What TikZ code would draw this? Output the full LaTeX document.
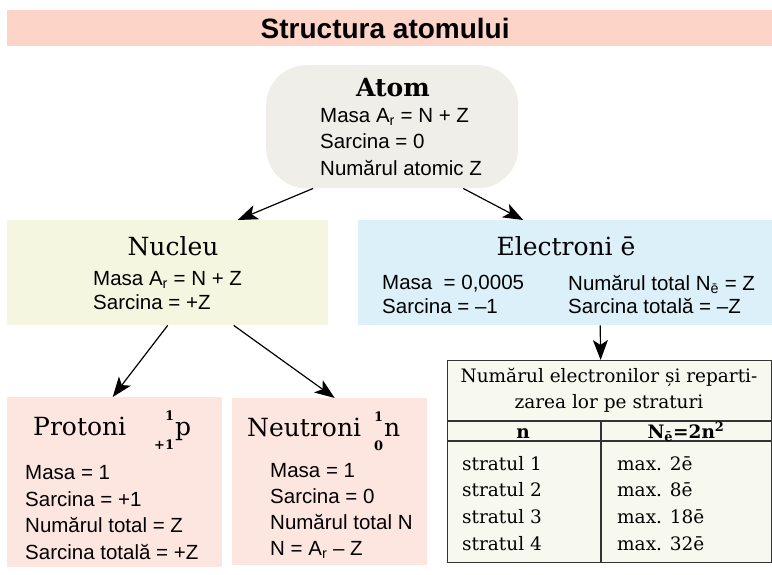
\documentclass[tikz,border=0pt]{standalone}
\usepackage{fontspec}
\newfontfamily\hv{Liberation Sans}
\newfontfamily\dvs{DejaVu Serif}
\usetikzlibrary{arrows.meta,positioning}
\definecolor{bandpink}{HTML}{FDD5C8}
\definecolor{atomgrey}{HTML}{EFEEE8}
\definecolor{nucyellow}{HTML}{F5F6E0}
\definecolor{elblue}{HTML}{DCF0FA}
\definecolor{partpink}{HTML}{FDE6E0}
\definecolor{tabcream}{HTML}{F8F9EE}
\definecolor{tabline}{HTML}{333333}
\newcommand{\nuclid}[3]{{\fontsize{13}{13}\selectfont\bfseries\begin{tabular}{@{}r@{}}#1\\[16pt]#2\end{tabular}}\hspace{1pt}#3}

\begin{document}
\begin{tikzpicture}[x=1pt,y=-1pt,
    box/.style={anchor=north west, inner sep=0pt, fill=#1},
    ttl/.style={inner sep=0pt, anchor=base, font=\dvs\fontsize{25}{30}\selectfont},
    txt/.style={inner sep=0pt, anchor=north west, align=left, font=\hv\fontsize{20.5}{#1}\selectfont},
    tabtxt/.style={inner sep=0pt, anchor=base west, font=\dvs\fontsize{18.5}{26}\selectfont},
    arr/.style={-{Stealth[length=20pt,width=15pt,inset=5pt]}, line width=1.2pt}]
    \useasboundingbox (0,0) rectangle (772,575);

    \node[box=bandpink, minimum width=765pt, minimum height=36pt,
      font=\hv\bfseries\fontsize{28}{30}\selectfont] (band) at (7,10) {Structura atomului\hspace*{9pt}};

    % boxes
    \node[box=atomgrey, minimum width=252pt, minimum height=123pt, rounded corners=40pt] (atom) at (266,65) {};
    \node[box=nucyellow, minimum width=321pt, minimum height=105pt] (nuc) at (7,220) {};
    \node[box=elblue, minimum width=414pt, minimum height=105pt] (el) at (358,220) {};
    \node[box=partpink, minimum width=215pt, minimum height=170pt] (pro) at (7,397) {};
    \node[box=partpink, minimum width=195pt, minimum height=167pt] (neu) at (232,398) {};
    \node[box=tabcream, draw=tabline, line width=1.3pt, minimum width=324pt, minimum height=202pt] (tab) at (447,360) {};

    % titles
    \node[ttl] (atomT) at (393,97) {\bfseries Atom};
    \node[ttl] (nucT) at (173,255) {Nucleu};
    \node[ttl] (elT) at (566,255) {Electroni ē};
    \node[ttl, anchor=base west] (proT) at (33,435) {Protoni\hspace{28pt}\nuclid{1}{+1}{p}};
    \node[ttl, anchor=base west] (neuT) at (247,436) {Neutroni\hspace{13pt}\nuclid{1}{0}{n}};

    % texts
    \node[txt=26.5] (atomL) at (320,108) {Masa A\textsubscript{r} = N + Z\\Sarcina = 0\\Numărul atomic Z};
    \node[txt=24] (nucL) at (93,271) {Masa A\textsubscript{r} = N + Z\\Sarcina = +Z};
    \node[txt=23.5] (elL) at (382,275) {Masa\ \ = 0,0005\\Sarcina = –1};
    \node[txt=23.5] (elR) at (568,275) {Numărul total N\textsubscript{ē} = Z\\Sarcina totală = –Z};
    \node[txt=26.7] (proL) at (25,465) {Masa = 1\\Sarcina = +1\\Numărul total = Z\\Sarcina totală = +Z};
    \node[txt=26] (neuL) at (270,463) {Masa = 1\\Sarcina = 0\\Numărul total N\\N = A\textsubscript{r} – Z};

    % table
    \draw[tabline, line width=1.3pt] (447,421) -- (771,421);
    \draw[tabline, line width=1.3pt] (447,441) -- (771,441);
    \draw[tabline, line width=1.3pt] (601,421) -- (601,562);
    \node[tabtxt, anchor=center, align=center] (tabH) at (609,390) {Numărul electronilor și reparti-\\zarea lor pe straturi};
    \node[tabtxt, anchor=base] (hn) at (523,438) {\bfseries n};
    \node[tabtxt, anchor=base] (hN) at (686,438) {\bfseries N\textsubscript{ē}=2n\textsuperscript{2}};
    \foreach \i/\m/\y in {1/2/470,2/8/496.5,3/18/523.5,4/32/550}{
      \node[tabtxt] (s\i) at (462,\y) {stratul \i};
      \node[tabtxt] (m\i) at (617,\y) {max. \m ē};
    }

    % arrows
    \draw[arr] ([xshift=-79pt]atom.south) -- ([xshift=70pt]nuc.north);
    \draw[arr] ([xshift=71pt]atom.south) -- ([xshift=-42pt]el.north);
    \draw[arr] (nuc.south) -- ([xshift=-2pt]pro.north);
    \draw[arr] ([xshift=66pt]nuc.south) -- ([xshift=5pt]neu.north);
    \draw[arr] ([xshift=35pt]el.south) -- ([xshift=-9pt]tab.north);

\end{tikzpicture}
\end{document}
